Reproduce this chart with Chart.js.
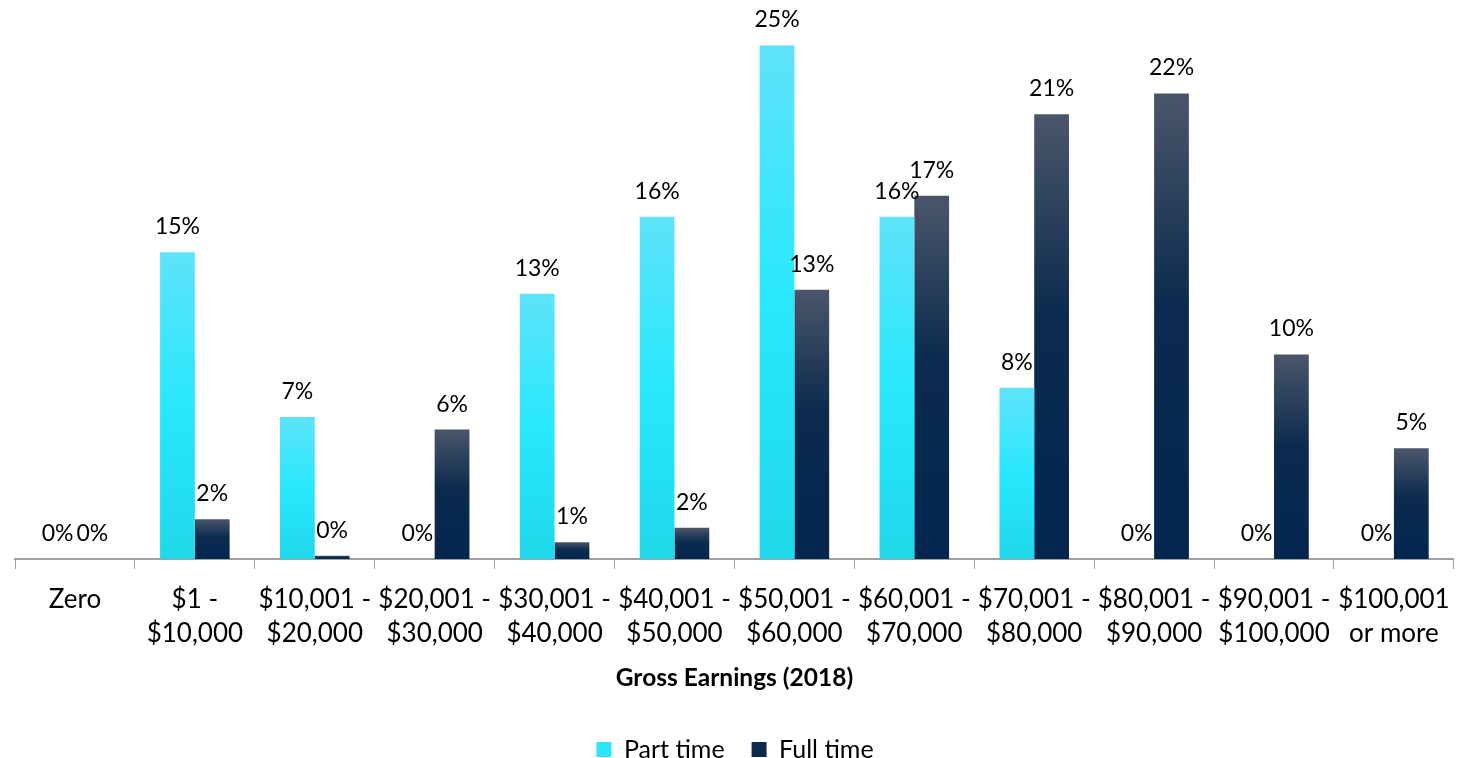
<!DOCTYPE html>
<html lang="en">
<head>
  <meta charset="UTF-8">
  <title>Gross Earnings (2018)</title>
  <script src="https://cdn.jsdelivr.net/npm/chart.js"></script>
  <style>
    body { margin: 0; background: #fff; }
    #wrap { width: 1463px; height: 758px; }
  </style>
</head>
<body>
  <div id="wrap"><canvas id="earningsChart"></canvas></div>

  <script>
    const categories = [
      ['Zero'], ['$1 -', '$10,000'], ['$10,001 -', '$20,000'], ['$20,001 -', '$30,000'],
      ['$30,001 -', '$40,000'], ['$40,001 -', '$50,000'], ['$50,001 -', '$60,000'],
      ['$60,001 -', '$70,000'], ['$70,001 -', '$80,000'], ['$80,001 -', '$90,000'],
      ['$90,001 -', '$100,000'], ['$100,001', 'or more']
    ];
    const partTime = [0, 14.7, 6.8, 0, 12.7, 16.4, 24.6, 16.4, 8.2, 0, 0, 0];
    const fullTime = [0, 1.9, 0.15, 6.2, 0.8, 1.5, 12.9, 17.4, 21.3, 22.3, 9.8, 5.3];

    const FONT = 'Lato, "Open Sans", sans-serif';

    // vertical gradient per bar, lighter at the top like the original
    function barGradient(stops, flat) {
      return (c) => {
        if (c.type !== 'data') return flat;
        const chart = c.chart;
        const y = chart.scales.y;
        if (!y || !chart.chartArea) return flat;
        const top = y.getPixelForValue(c.raw);
        const base = y.getPixelForValue(0);
        if (base - top < 1) return flat;
        const g = chart.ctx.createLinearGradient(0, top, 0, base);
        stops.forEach(s => g.addColorStop(s[0], s[1]));
        return g;
      };
    }

    const valueLabels = {
      id: 'valueLabels',
      afterDatasetsDraw(chart) {
        const ctx = chart.ctx;
        ctx.save();
        ctx.font = '23px ' + FONT;
        ctx.fillStyle = '#000';
        ctx.textAlign = 'center';
        ctx.textBaseline = 'alphabetic';
        chart.data.datasets.forEach((ds, i) => {
          chart.getDatasetMeta(i).data.forEach((bar, j) => {
            ctx.fillText(Math.round(ds.data[j]) + '%', bar.x, bar.y - 18);
          });
        });
        ctx.restore();
      }
    };

    new Chart(document.getElementById('earningsChart'), {
      type: 'bar',
      data: {
        labels: categories,
        datasets: [
          {
            label: 'Part time',
            data: partTime,
            backgroundColor: barGradient([[0, '#5ee3fa'], [0.5, '#28e8fd'], [1, '#1fd8ea']], '#2ee4f8')
          },
          {
            label: 'Full time',
            data: fullTime,
            backgroundColor: barGradient([[0, '#4a566a'], [0.45, '#0b2b4e'], [1, '#03254f']], '#0c2a4c')
          }
        ]
      },
      plugins: [valueLabels],
      options: {
        responsive: true,
        maintainAspectRatio: false,
        animation: false,
        categoryPercentage: 0.58,
        barPercentage: 1.0,
        layout: { padding: { left: 15, right: 8, top: 10, bottom: -14 } },
        plugins: {
          tooltip: { enabled: false },
          legend: {
            position: 'bottom',
            labels: {
              color: '#000',
              font: { family: FONT, size: 25 },
              boxWidth: 15,
              boxHeight: 15,
              padding: 27
            }
          }
        },
        scales: {
          y: {
            display: false,
            min: 0,
            max: 26.3
          },
          x: {
            grid: {
              display: true,
              offset: true,
              drawOnChartArea: false,
              drawTicks: true,
              tickLength: 10,
              color: '#a0a0a0'
            },
            border: { color: '#a0a0a0', width: 2 },
            ticks: {
              color: '#000',
              autoSkip: false,
              maxRotation: 0,
              minRotation: 0,
              padding: 13,
              font: { family: FONT, size: 26, lineHeight: 1.32 }
            },
            title: {
              display: true,
              text: 'Gross Earnings (2018)',
              color: '#000',
              font: { family: FONT, size: 24.5, weight: 'bold' },
              padding: { top: 0, bottom: 17 }
            }
          }
        }
      }
    });
  </script>
</body>
</html>
